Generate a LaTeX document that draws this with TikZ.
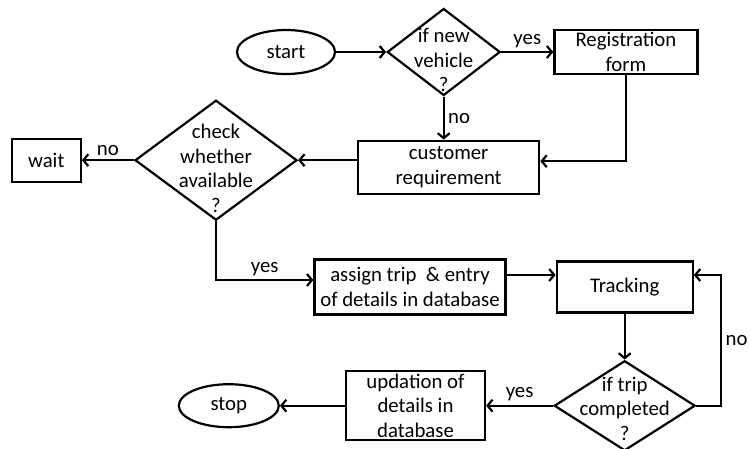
\documentclass[tikz,border=0pt]{standalone}
\usepackage{fontspec}
\setmainfont{Carlito}
\usetikzlibrary{arrows.meta,positioning,shapes.geometric}

\begin{document}
\begin{tikzpicture}[x=1pt, y={(0pt,-1pt)}, >={Straight Barb[length=5pt,width=12pt]},
  font=\fontsize{20.8}{24.5}\selectfont, line width=2.2pt,
  box/.style={draw, rectangle, align=center, inner sep=0pt},
  term/.style={draw, ellipse, inner sep=0pt, minimum width=98pt, minimum height=44pt},
  ask/.style={draw, diamond, inner sep=0pt},
  asktext/.style={align=center, yshift=-8pt}]
  \useasboundingbox (0,0) rectangle (751,448);

  % top row
  \node[term] (start) at (286,52) {start};
  \node[ask, minimum width=113pt, minimum height=87pt, right=50pt of start,
        label={[asktext]center:{if new\\vehicle\\?}}] (newv) {};
  \node[box, minimum width=143pt, minimum height=44pt, right=52pt of newv] (reg) {Registration\\form};
  \node[box, minimum width=181pt, minimum height=53pt, below=43pt of newv, xshift=5pt] (cust) {customer\\requirement};

  % availability check
  \node[ask, minimum width=162pt, minimum height=120pt, left=59pt of cust, yshift=7pt,
        label={[asktext]center:{check\\whether\\available\\?}}] (check) {};
  \node[box, minimum width=69pt, minimum height=43pt, left=52pt of check] (wait) {wait};

  % trip handling
  \node[box, minimum width=191pt, minimum height=55pt] (assign) at (410,287) {assign trip\ \ \& entry\\of details in database};
  \node[box, minimum width=136pt, minimum height=51pt, right=49pt of assign] (track) {Tracking};
  \node[ask, minimum width=141pt, minimum height=90pt, below=46pt of track,
        label={[asktext, yshift=5pt]center:{if trip\\completed\\?}}] (trip) {};
  \node[box, minimum width=139pt, minimum height=69pt, left=67pt of trip] (upd) {updation of\\details in\\database};
  \node[term, minimum width=100pt, minimum height=43pt, left=65pt of upd] (stop) {stop};

  % main flow arrows
  \draw[->] (start) -- (newv);
  \draw[->] (newv) -- node[above] {yes} (reg);
  \draw[->] (newv.south) -- node[right] {no} (newv.south |- cust.north);
  \draw[->] (reg.south) |- ([yshift=6pt]cust.east);
  \draw[->] (cust.west |- check) -- (check.east);
  \draw[->] (check.west) -- node[above] {no} (check.west -| wait.east);
  \draw[->] (check.south) |- node[above, pos=0.75] {yes} ([yshift=7pt]assign.west);
  \draw[->] ([yshift=12pt]assign.east) -- ([yshift=12pt]assign.east -| track.west);
  \draw[->] (track) -- (trip);
  % loop back while trip not completed
  \draw[->] (trip.east) -- ++(25,0) |- node[right, pos=0.25] {no} ([yshift=12pt]track.east);
  \draw[->] (trip.west) -- node[above] {yes} (trip.west -| upd.east);
  \draw[->] (upd.west |- stop) -- (stop.east);
\end{tikzpicture}
\end{document}
